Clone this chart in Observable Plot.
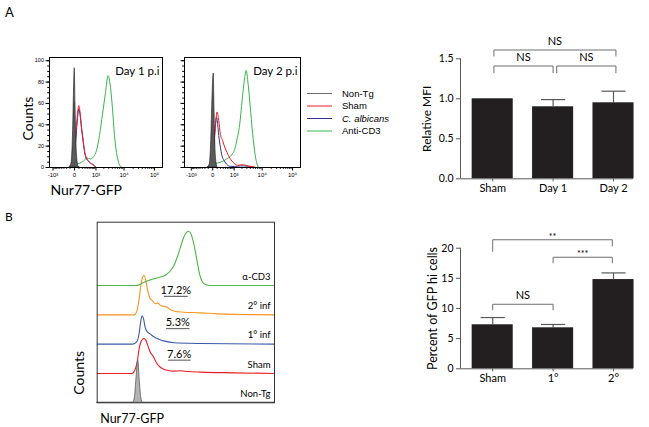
<!DOCTYPE html>
<html><head><meta charset="utf-8">
<script src="https://cdn.jsdelivr.net/npm/d3@7"></script>
<script src="https://cdn.jsdelivr.net/npm/@observablehq/plot@0.6"></script>
<style>
body{margin:0;background:#fff;}
#root{position:relative;width:649px;height:427px;overflow:hidden;font-family:Lato,"Open Sans",sans-serif;color:#000;}
.lbl{position:absolute;font-family:Lato,sans-serif;}
</style></head>
<body><div id="root"></div>
<script>
// ---------------- DATA ----------------
// Panel A histograms: [fluorescence, counts]
const samplesA = ["Non-Tg", "Sham", "C. albicans", "Anti-CD3"];
const colorsA = ["#6d6e71", "#ed1c24", "#2e3192", "#39b54a"];
const day1NonTg = [[-114,0],[-63,4],[-30,30],[-10,70],[5,93],[19,60],[40,22],[63,6],[87,1],[127,0]];
const day1Sham = [[-63,0],[-19,5],[19,25],[63,50],[95,58],[127,52],[172,38],[230,25],[278,16],[364,9],[464,6],[579,4],[713,3],[869,1.5],[1049,0]];
const day1Cand = [[-63,0],[-19,4],[19,22],[63,46],[95,55],[127,50],[172,37],[230,24],[278,15],[364,8],[464,6],[579,4],[713,3],[869,1.5],[1049,0]];
const day1CD3 = [[-40,0],[19,3],[114,4],[241,6],[364,9],[579,8],[787,10],[1049,16],[1376,30],[1786,50],[2299,70],[2825,86],[3458,75],[4056,55],[4750,30],[5562,14],[6500,5],[7600,1],[8860,0]];
const day2NonTg = [[-114,0],[-63,3],[-30,25],[-5,65],[19,88],[35,55],[55,20],[80,5],[110,0]];
const day2Sham = [[-87,0],[-40,3],[0,10],[40,30],[95,52],[142,44],[195,31],[278,25],[364,19],[485,14],[643,9],[811,6],[1049,3.5],[1376,2],[1786,2.5],[2299,2.5],[3190,1.5],[4750,0.8],[6500,0]];
const day2Cand = [[-63,0],[-19,5],[19,20],[51,38],[80,47],[114,40],[142,30],[195,19],[241,12],[351,6],[464,3],[713,1],[1049,1],[1786,1.5],[2299,1.5],[3458,1],[5562,0]];
const day2CD3 = [[-19,0],[19,3],[205,5],[464,8],[787,12],[1049,17],[1260,25],[1639,40],[2028,63],[2497,84],[2825,91],[3320,78],[3900,58],[4750,32],[5783,12],[6760,3],[7600,0]];
const xTickVals = [-1000, 0, 1000, 10000, 100000];
const xTickLabels = ["-10³", "0", "10³", "10⁴", "10⁵"];
const yTickValsHist = [0, 20, 40, 60, 80, 100];

// Panel A bar chart
const catsA = ["Sham", "Day 1", "Day 2"];
const mfiMean = [1.0, 0.9, 0.95];
const mfiErr = [0, 0.09, 0.145];
const sigA = [
  {a: 0.02, b: 1.0, top: 1.41, legA: 1.32, legB: 1.32, label: "NS"},
  {a: 1.06, b: 2.04, top: 1.41, legA: 1.32, legB: 1.32, label: "NS"},
  {a: 0.02, b: 2.04, top: 1.61, legA: 1.53, legB: 1.53, label: "NS"}
];

// Panel B histogram: [channel, counts]
const samplesB = ["Non-Tg", "Sham", "1° inf", "2° inf", "α-CD3"];
const colorsB = ["#6d6e71", "#ed1c24", "#3a5ba8", "#f7941d", "#4cb848"];
const bNonTg = [[0,0],[208,0],[218,10],[227,45],[237,78],[246,40],[254,10],[264,0],[1024,0]];
const bSham = [[0,0],[202,0],[212,3],[221,9],[231,21.5],[244,49],[260,62.6],[270,64.5],[281,61.4],[295,49],[308,38],[323,32],[339,21.5],[356,14],[375,9],[404,6],[443,4.3],[481,4.9],[520,3.7],[597,2.5],[789,1.2],[1024,0]];
const bInf1 = [[0,0],[202,0],[216,1.2],[231,6],[243,21.5],[252,43],[260,52],[268,46],[277,30.7],[289,23],[308,18.4],[327,13.5],[356,9.2],[385,6],[443,2.5],[597,1.2],[1024,0]];
const bInf2 = [[0,0],[212,0],[227,4.9],[241,26.4],[252,54],[264,70.6],[271,72.5],[281,63],[291,46],[302,32.5],[318,26.4],[337,20.3],[350,21.5],[366,17.2],[389,15.4],[404,14],[424,9.2],[452,6.1],[500,4.9],[597,3.7],[693,1.8],[1024,0]];
const bCD3 = [[0,0],[221,0],[241,1.2],[270,6],[308,10.4],[347,14],[375,16.6],[400,20.3],[424,27.6],[443,36.8],[462,52],[481,70.6],[500,89],[516,98],[526,100],[537,97.6],[551,86],[564,67.5],[578,43],[591,21.5],[606,7.4],[626,1.8],[655,0],[1024,0]];
const gateSamples = [1, 2, 3];
const gateLabels = ["7.6%", "5.3%", "17.2%"];
const gateX1 = [408, 398, 385];
const gateX2 = [539, 533, 523];
const gateY = [24.5, 28.7, 34];

// Panel B bar chart
const catsB = ["Sham", "1°", "2°"];
const pctMean = [7.3, 6.8, 14.8];
const pctErr = [1.2, 0.55, 1.1];
const sigB = [
  {a: 0, b: 1.0, top: 10.7, legA: 9.7, legB: 9.7, label: "NS"},
  {a: 1.0, b: 1.98, top: 18.5, legA: 17.5, legB: 17.5, label: "***"},
  {a: 0, b: 1.98, top: 21.4, legA: 19.4, legB: 20.3, label: "**"}
];

// ---------------- LAYOUT ----------------
const root = document.getElementById("root");
const FONT = "Lato, 'Open Sans', sans-serif";
const ARIAL = "'Liberation Sans', Arial, sans-serif";
function place(node, left, top) {
  const d = document.createElement("div");
  d.style.position = "absolute"; d.style.left = left + "px"; d.style.top = top + "px";
  d.appendChild(node); root.appendChild(d);
}
function label(text, left, top, size, extra = "") {
  const d = document.createElement("div");
  d.className = "lbl"; d.textContent = text;
  d.style.cssText += `left:${left}px;top:${top}px;font-size:${size}px;${extra}`;
  root.appendChild(d);
}
const rows = arr => arr.map(([x, y]) => ({x, y}));
const minorX = [...d3.range(-900, 0, 100), ...d3.range(100, 1000, 100), ...d3.range(2000, 10000, 1000), ...d3.range(20000, 100000, 10000)];
const baseStyle = {background: "transparent", overflow: "visible", maxWidth: "none", fontFamily: ARIAL};

function hist({nonTg, sham, cand, cd3, xmin, title, yLabels, width, ml, mr, extra = []}) {
  return Plot.plot({
    width, height: 160, marginLeft: ml, marginRight: mr, marginTop: 17, marginBottom: 33,
    style: baseStyle,
    x: {type: "symlog", constant: 250, domain: [xmin, 182000], label: null},
    y: {domain: [0, 103], label: null},
    marks: [
      Plot.axisX({ticks: minorX, tickSize: 1.8, tickFormat: () => "", label: null, stroke: "#000"}),
      Plot.axisX({ticks: xTickVals, tickSize: 3.5, tickPadding: 2, label: null, fontSize: 6,
        tickFormat: d => xTickLabels[xTickVals.indexOf(d)]}),
      Plot.axisY({ticks: d3.range(0, 101, 5), tickSize: 1.8, tickFormat: () => "", label: null}),
      Plot.axisY({ticks: yTickValsHist, tickSize: 3.5, tickPadding: 2, label: null, fontSize: 5.5,
        tickFormat: yLabels ? d => d : () => ""}),
      Plot.line(rows(cd3), {x: "x", y: "y", stroke: colorsA[3], strokeWidth: 1, curve: "monotone-x"}),
      Plot.line(rows(cand), {x: "x", y: "y", stroke: colorsA[2], strokeWidth: 1, curve: "monotone-x"}),
      Plot.line(rows(sham), {x: "x", y: "y", stroke: colorsA[1], strokeWidth: 1, curve: "monotone-x"}),
      Plot.areaY(rows(nonTg), {x: "x", y: "y", fill: "#5a5a5a", stroke: "#1a1a1a", strokeWidth: 0.6, curve: "monotone-x"}),
      Plot.frame({stroke: "#000", strokeWidth: 1}),
      Plot.text([title], {text: d => d, frameAnchor: "top-right", dx: -3, dy: 9, fontSize: 11.5, fontFamily: FONT}),
      ...extra
    ]
  });
}

place(hist({nonTg: day1NonTg, sham: day1Sham, cand: day1Cand, cd3: day1CD3, xmin: -1375,
  title: "Day 1 p.i", yLabels: true, width: 170, ml: 49, mr: 8,
  extra: [
    Plot.text(["Counts"], {text: d => d, frameAnchor: "left", textAnchor: "middle", rotate: -90, dx: -21, dy: 6, fontSize: 14, fontFamily: FONT}),
    Plot.text(["Nur77-GFP"], {text: d => d, frameAnchor: "bottom-left", textAnchor: "start", lineAnchor: "middle", dx: 1, dy: 23, fontSize: 14, fontFamily: FONT})
  ]}), 0, 40);
place(hist({nonTg: day2NonTg, sham: day2Sham, cand: day2Cand, cd3: day2CD3, xmin: -1833,
  title: "Day 2 p.i", yLabels: false, width: 130, ml: 9, mr: 5}), 175, 40);

// legend for panel A
{
  const svg = d3.create("svg").attr("width", 100).attr("height", 60).style("overflow", "visible");
  samplesA.forEach((s, i) => {
    const y = 8.5 + i * 12.5;
    svg.append("line").attr("x1", 7).attr("x2", 32).attr("y1", y).attr("y2", y)
      .attr("stroke", colorsA[i]).attr("stroke-width", 1);
    svg.append("text").attr("x", 42).attr("y", y).attr("dy", "0.35em")
      .attr("font-family", ARIAL).attr("font-size", 9.5)
      .attr("font-style", s === "C. albicans" ? "italic" : "normal").text(s);
  });
  place(svg.node(), 300, 85);
}

function barPlot({cats, mean, err, sig, yDomain, yTicks, yFmt, yLabel, ylabDx, ylabSize, mt, mb, starSize}) {
  const data = cats.map((c, i) => ({i, c, m: mean[i], e: err[i]}));
  const withErr = data.filter(d => d.e > 0);
  const hw = 0.34, cw = 0.2, xmin = -0.533;
  const segs = sig.flatMap(s => [
    {x1: s.a, x2: s.a, y1: s.legA, y2: s.top},
    {x1: s.a, x2: s.b, y1: s.top, y2: s.top},
    {x1: s.b, x2: s.b, y1: s.legB, y2: s.top}
  ]);
  return Plot.plot({
    width: 249, height: 180, marginLeft: 60, marginRight: 16, marginTop: mt, marginBottom: mb,
    style: {...baseStyle, fontFamily: FONT},
    x: {domain: [xmin, 2.331], label: null},
    y: {domain: yDomain, label: null},
    marks: [
      Plot.rectY(data, {x1: d => d.i - hw, x2: d => d.i + hw, y1: 0, y2: "m", fill: "#231f20"}),
      Plot.link(withErr, {x1: "i", x2: "i", y1: "m", y2: d => d.m + d.e, stroke: "#58595b", strokeWidth: 1.2}),
      Plot.link(withErr, {x1: d => d.i - cw, x2: d => d.i + cw, y1: d => d.m + d.e, y2: d => d.m + d.e, stroke: "#58595b", strokeWidth: 1.2}),
      Plot.ruleY([yDomain[0]], {stroke: "#58595b"}),
      Plot.ruleX([xmin], {stroke: "#58595b"}),
      Plot.axisY({ticks: yTicks, tickFormat: yFmt, tickSize: 4, tickPadding: 3, fontSize: 10.5, label: null, stroke: "#58595b"}),
      Plot.axisX({ticks: [0, 1, 2], tickFormat: i => cats[i], tickSize: 3, tickPadding: 2, fontSize: 11, label: null, stroke: "#58595b"}),
      Plot.link(segs, {x1: "x1", x2: "x2", y1: "y1", y2: "y2", stroke: "#6d6e71", strokeWidth: 1}),
      Plot.text(sig.filter(s => s.label === "NS"), {x: d => (d.a + d.b) / 2, y: "top", text: "label", lineAnchor: "bottom", dy: -5, fontSize: 11}),
      Plot.text(sig.filter(s => s.label !== "NS"), {x: d => (d.a + d.b) / 2, y: "top", text: "label", lineAnchor: "bottom", dy: 0, fontSize: starSize}),
      Plot.text([yLabel], {text: d => d, frameAnchor: "left", textAnchor: "middle", rotate: -90, dx: ylabDx, fontSize: ylabSize})
    ]
  });
}

place(barPlot({cats: catsA, mean: mfiMean, err: mfiErr, sig: sigA, yDomain: [0, 1.5], yTicks: [0, 0.5, 1, 1.5],
  yFmt: d3.format(".1f"), yLabel: "Relative MFI", ylabDx: -33, ylabSize: 12, mt: 38.3, mb: 21.7, starSize: 10}), 400, 20);
place(barPlot({cats: catsB, mean: pctMean, err: pctErr, sig: sigB, yDomain: [0, 20], yTicks: [0, 5, 10, 15, 20],
  yFmt: d => d, yLabel: "Percent of GFP hi cells", ylabDx: -28, ylabSize: 12.5, mt: 27.7, mb: 31.7, starSize: 9}), 400, 220);

// Panel B histogram (offset overlay)
{
  const STEP = 54;
  const curves = [bNonTg, bSham, bInf1, bInf2, bCD3];
  const lineRows = curves.flatMap((c, k) => k === 0 ? [] : c.map(([x, y]) => ({k, x, y: k * STEP + y})));
  const nameRows = samplesB.map((s, k) => ({s, k, y: k * STEP}));
  const gates = gateSamples.map((k, j) => ({k, x1: gateX1[j], x2: gateX2[j], y: k * STEP + gateY[j], t: gateLabels[j]}));
  const svg = Plot.plot({
    width: 230, height: 212, marginLeft: 46.7, marginRight: 6, marginTop: 6.7, marginBottom: 24.7,
    style: {...baseStyle, fontFamily: FONT},
    x: {domain: [0, 1024], axis: null},
    y: {domain: [0, 332.6], axis: null},
    marks: [
      Plot.line(lineRows, {x: "x", y: "y", z: "k", stroke: d => colorsB[d.k], strokeWidth: 1.1, curve: "monotone-x"}),
      Plot.areaY(rows(bNonTg), {x: "x", y: "y", fill: "#b3b3b3", stroke: "#58595b", strokeWidth: 0.8, curve: "monotone-x"}),
      Plot.link(gates, {x1: "x1", x2: "x2", y1: "y", y2: "y", stroke: "#6d6e71", strokeWidth: 1.2}),
      Plot.text(gates, {x: d => (d.x1 + d.x2) / 2, y: "y", text: "t", lineAnchor: "bottom", dy: -2.5, fontSize: 11}),
      Plot.text(nameRows, {x: () => 1024, y: "y", text: "s", textAnchor: "end", lineAnchor: "middle", dx: -4, dy: -9, fontSize: 9.5}),
      Plot.frame({stroke: "#333", strokeWidth: 1}),
      Plot.text(["Counts"], {text: d => d, frameAnchor: "bottom-left", textAnchor: "middle", rotate: -90, dx: -13.7, dy: -30, fontSize: 14}),
      Plot.text(["Nur77-GFP"], {text: d => d, frameAnchor: "bottom-left", textAnchor: "start", lineAnchor: "middle", dx: 3, dy: 16, fontSize: 12.5})
    ]
  });
  place(svg, 50, 215);
}

label("A", 5, 4, 13);
label("B", 5, 209, 12);
</script>
</body></html>
